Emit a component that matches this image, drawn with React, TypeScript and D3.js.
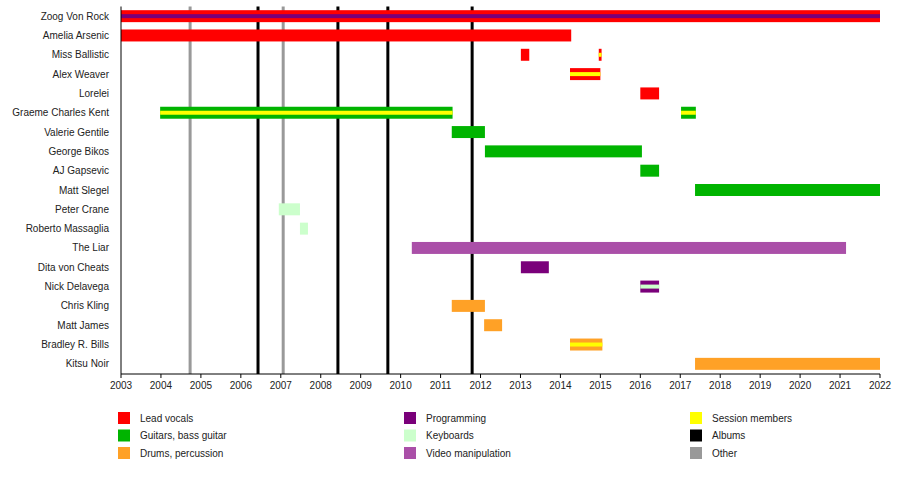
import { scaleLinear, scaleBand, range } from 'd3'

const members = [
  'Zoog Von Rock', 'Amelia Arsenic', 'Miss Ballistic', 'Alex Weaver', 'Lorelei',
  'Graeme Charles Kent', 'Valerie Gentile', 'George Bikos', 'AJ Gapsevic', 'Matt Slegel',
  'Peter Crane', 'Roberto Massaglia', 'The Liar', 'Dita von Cheats', 'Nick Delavega',
  'Chris Kling', 'Matt James', 'Bradley R. Bills', 'Kitsu Noir',
]

const roleColors: Record<string, string> = {
  vocals: '#ff0000',
  guitar: '#00b400',
  drums: '#ffa126',
  programming: '#7a007a',
  keyboards: '#ccffcc',
  video: '#aa4fa8',
  session: '#ffff00',
}

// [member, start, end, role, stripe role]
const spans: [string, number, number, string, string | null][] = [
  ['Zoog Von Rock', 2003, 2022, 'vocals', 'programming'],
  ['Amelia Arsenic', 2003, 2014.27, 'vocals', null],
  ['Miss Ballistic', 2013.01, 2013.22, 'vocals', null],
  ['Miss Ballistic', 2014.96, 2015.03, 'vocals', 'session'],
  ['Alex Weaver', 2014.24, 2015.0, 'vocals', 'session'],
  ['Lorelei', 2016.0, 2016.47, 'vocals', null],
  ['Graeme Charles Kent', 2003.98, 2011.3, 'guitar', 'session'],
  ['Graeme Charles Kent', 2017.02, 2017.39, 'guitar', 'session'],
  ['Valerie Gentile', 2011.28, 2012.11, 'guitar', null],
  ['George Bikos', 2012.11, 2016.04, 'guitar', null],
  ['AJ Gapsevic', 2016.0, 2016.47, 'guitar', null],
  ['Matt Slegel', 2017.37, 2022, 'guitar', null],
  ['Peter Crane', 2006.95, 2007.48, 'keyboards', null],
  ['Roberto Massaglia', 2007.48, 2007.68, 'keyboards', null],
  ['The Liar', 2010.28, 2021.15, 'video', null],
  ['Dita von Cheats', 2013.01, 2013.71, 'programming', null],
  ['Nick Delavega', 2016.0, 2016.47, 'programming', 'keyboards'],
  ['Chris Kling', 2011.28, 2012.11, 'drums', null],
  ['Matt James', 2012.09, 2012.54, 'drums', null],
  ['Bradley R. Bills', 2014.24, 2015.05, 'drums', 'session'],
  ['Kitsu Noir', 2017.37, 2022, 'drums', null],
]

const albums = [2006.43, 2008.43, 2009.68, 2011.79]
const others = [2004.73, 2007.06]
const years = range(2003, 2023)

const legend: [string, string][] = [
  ['Lead vocals', roleColors.vocals],
  ['Guitars, bass guitar', roleColors.guitar],
  ['Drums, percussion', roleColors.drums],
  ['Programming', roleColors.programming],
  ['Keyboards', roleColors.keyboards],
  ['Video manipulation', roleColors.video],
  ['Session members', roleColors.session],
  ['Albums', '#000000'],
  ['Other', '#999999'],
]

const width = 900
const height = 489
const left = 121
const right = 880
const top = 6.5
const axisY = 374

export default function App() {
  const x = scaleLinear().domain([2003, 2022]).range([left, right])
  const y = scaleBand().domain(members).range([top, axisY - 0.5]).paddingInner(0.38).paddingOuter(0.19)
  const bh = y.bandwidth()
  const font = 'Liberation Sans, Arial, sans-serif'

  return (
    <svg width={width} height={height} style={{ position: 'absolute', left: 0, top: 0, fontFamily: font }}>
      <rect width={width} height={height} fill="#fff" />
      {others.map((d) => (
        <line key={`o${d}`} x1={x(d)} x2={x(d)} y1={top} y2={axisY} stroke="#999" strokeWidth={3} />
      ))}
      {albums.map((d) => (
        <line key={`a${d}`} x1={x(d)} x2={x(d)} y1={top} y2={axisY} stroke="#000" strokeWidth={3} />
      ))}
      {spans.map(([m, s, e, role, stripe], i) => {
        const yy = y(m) ?? 0
        return (
          <g key={i}>
            <rect x={x(s)} y={yy} width={x(e) - x(s)} height={bh} fill={roleColors[role]} />
            {stripe && (
              <rect x={x(s)} y={yy + bh / 3} width={x(e) - x(s)} height={bh / 3} fill={roleColors[stripe]} />
            )}
          </g>
        )
      })}
      {members.map((m) => (
        <text key={m} x={109} y={(y(m) ?? 0) + bh / 2} dy="0.35em" textAnchor="end" fontSize={10} fill="#222">
          {m}
        </text>
      ))}
      <line x1={left} x2={left} y1={top} y2={axisY} stroke="#000" />
      <line x1={left} x2={right} y1={axisY} y2={axisY} stroke="#000" />
      {years.map((yr) => (
        <g key={yr}>
          <line x1={x(yr)} x2={x(yr)} y1={axisY} y2={axisY + 4} stroke="#000" />
          <text x={x(yr)} y={axisY + 15} textAnchor="middle" fontSize={10} fill="#222">{yr}</text>
        </g>
      ))}
      {legend.map(([label, color], i) => {
        const col = Math.floor(i / 3)
        const row = i % 3
        const lx = 118 + col * 286
        const ly = 412 + row * 17.5
        return (
          <g key={label}>
            <rect x={lx} y={ly} width={12} height={12} fill={color} />
            <text x={lx + 22} y={ly + 6} dy="0.35em" fontSize={10} fill="#222">{label}</text>
          </g>
        )
      })}
    </svg>
  )
}
